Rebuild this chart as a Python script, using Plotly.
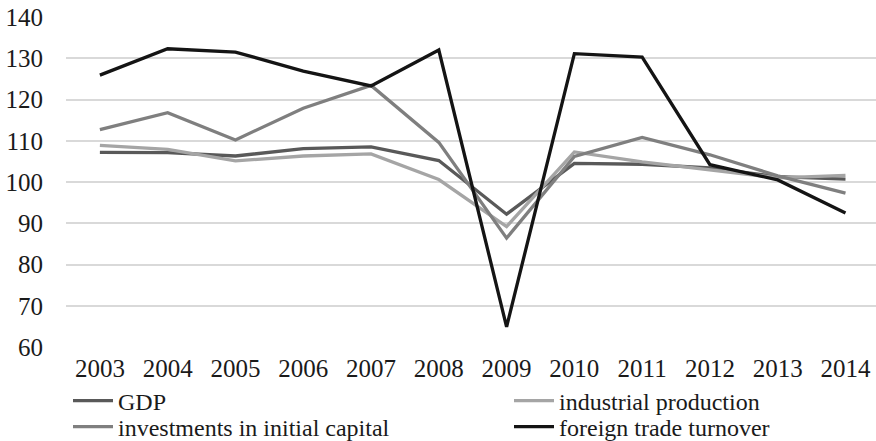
import plotly.graph_objects as go

years = ["2003", "2004", "2005", "2006", "2007", "2008", "2009", "2010", "2011", "2012", "2013", "2014"]
gdp = [107.2, 107.1, 106.3, 108.1, 108.5, 105.2, 92.2, 104.5, 104.3, 103.4, 101.3, 100.7]
industrial = [108.9, 107.9, 105.1, 106.3, 106.8, 100.6, 89.2, 107.3, 104.9, 103.0, 101.0, 101.6]
investments = [112.7, 116.8, 110.2, 117.9, 123.4, 109.6, 86.4, 106.2, 110.8, 106.6, 101.5, 97.3]
foreign_trade = [125.9, 132.3, 131.5, 126.9, 123.3, 132.0, 64.9, 131.1, 130.3, 104.2, 100.5, 92.5]

series = [
    ("GDP", gdp, "#595959", "legend"),
    ("industrial production", industrial, "#a5a5a5", "legend2"),
    ("investments in initial capital", investments, "#7f7f7f", "legend3"),
    ("foreign trade turnover", foreign_trade, "#141414", "legend4"),
]

fig = go.Figure()
for name, vals, color, lg in series:
    fig.add_trace(go.Scatter(x=years, y=vals, name=name, mode="lines", legend=lg,
                             line=dict(color=color, width=3.3)))

font_family = "Liberation Serif, DejaVu Serif, serif"
leg_font = dict(family=font_family, size=24, color="#1a1a1a")


def leg(x, y):
    return dict(orientation="v", x=x, xanchor="left", xref="container",
                y=y, yanchor="middle", yref="container",
                font=leg_font, bgcolor="rgba(0,0,0,0)", borderwidth=0, itemwidth=40)


fig.update_layout(
    width=876, height=441,
    margin=dict(l=66, r=0, t=17, b=94, autoexpand=False),
    paper_bgcolor="white", plot_bgcolor="white",
    font=dict(family=font_family, size=25, color="#1a1a1a"),
    showlegend=True,
    legend=leg(68 / 876, 1 - 401 / 441),
    legend2=leg(509 / 876, 1 - 401 / 441),
    legend3=leg(68 / 876, 1 - 427 / 441),
    legend4=leg(509 / 876, 1 - 427 / 441),
    xaxis=dict(type="category", range=[-0.5, 11.45], showgrid=False, zeroline=False,
               showline=False, ticks="", tickfont=dict(size=25), ticklabelstandoff=4),
    yaxis=dict(range=[60, 140], dtick=10, showgrid=True, gridcolor="#d9d9d9", gridwidth=1.5,
               zeroline=False, showline=False, ticks="", tickfont=dict(size=25),
               ticklabelstandoff=22),
)

fig.write_html("out.html", config={"displayModeBar": False},
               post_script="document.body.style.margin='0';")
